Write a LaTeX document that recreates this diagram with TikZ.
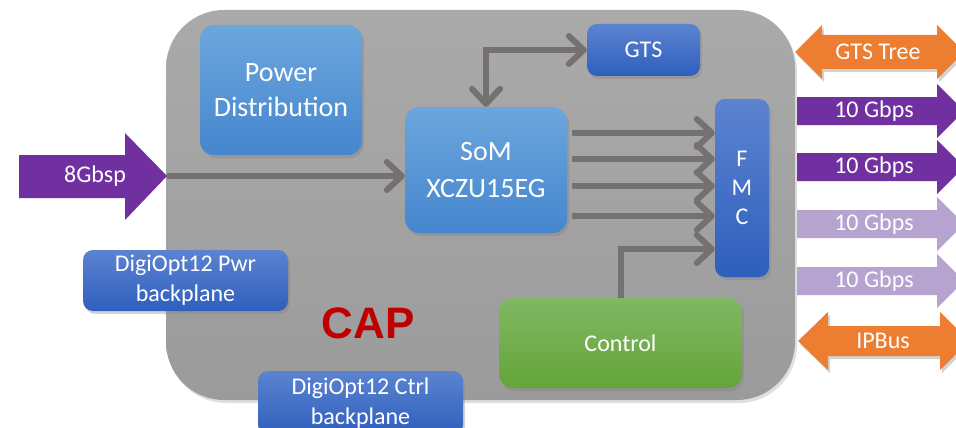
\documentclass[tikz,border=0pt]{standalone}
\usepackage{fontspec}
\setmainfont{Carlito}
\newfontfamily\capfont{Liberation Sans}
\usetikzlibrary{arrows.meta,shadows,calc}
\definecolor{bodytop}{HTML}{AAAAAA}
\definecolor{bodybot}{HTML}{9B9B9B}
\definecolor{lbtop}{HTML}{6CA6DD}
\definecolor{lbbot}{HTML}{4586CE}
\definecolor{dbtop}{HTML}{5B83D0}
\definecolor{dbbot}{HTML}{2F5FBD}
\definecolor{grtop}{HTML}{80B862}
\definecolor{grbot}{HTML}{64A53A}
\definecolor{conngray}{HTML}{767171}
\definecolor{purp}{HTML}{7030A0}
\definecolor{lpurp}{HTML}{B6A3D0}
\definecolor{orng}{HTML}{ED7D31}
\definecolor{capred}{HTML}{C00000}
\tikzset{
  shad/.style={drop shadow={shadow xshift=2pt,shadow yshift=-3pt,opacity=0.35}},
  box/.style={rounded corners=14pt, inner sep=0pt, text=white, align=center, shad},
  lbox/.style={box, top color=lbtop, bottom color=lbbot, font=\fontsize{28}{35}\selectfont},
  dbox/.style={box, rounded corners=10pt, top color=dbtop, bottom color=dbbot, font=\fontsize{24}{30}\selectfont},
  gbox/.style={box, top color=grtop, bottom color=grbot, font=\fontsize{24}{30}\selectfont},
  conn/.style={draw=conngray, line width=6pt},
  barb/.tip={Straight Barb[length=15pt,width=28pt,round]},
  lbl/.style={text=white, font=\fontsize{24}{29}\selectfont, inner sep=0pt},
}
\begin{document}
\begin{tikzpicture}[x=1pt,y=-1pt]
\useasboundingbox (0,0) rectangle (956,428);
% main body
\node[rounded corners=58pt, top color=bodytop, bottom color=bodybot, minimum width=629pt, minimum height=390pt, inner sep=0pt,
  drop shadow={shadow xshift=2pt,shadow yshift=-3pt,opacity=0.25}] (capbody) at (480.5,205) {};
\node[font=\capfont\bfseries\fontsize{44}{50}\selectfont, text=capred, inner sep=0pt] (caplbl) at (368,323) {CAP};
% boxes
\node[lbox, minimum width=162pt, minimum height=130pt] (pwr) at (281,90) {Power\\Distribution};
\node[lbox, minimum width=162pt, minimum height=126pt, font=\fontsize{28}{37}\selectfont] (som) at (486,170) {SoM\\XCZU15EG};
\node[dbox, minimum width=113pt, minimum height=52pt] (gts) at (643.5,50) {GTS};
\node[dbox, minimum width=54pt, minimum height=178pt, font=\fontsize{24}{29}\selectfont] (fmc) at (742,188) {F\\M\\C};
\node[gbox, minimum width=243pt, minimum height=90pt] (ctrl) at (620.5,343) {Control};
\node[dbox, minimum width=205pt, minimum height=61pt] (dpwr) at (185.5,280.5) {DigiOpt12 Pwr\\backplane};
\node[dbox, minimum width=205pt, minimum height=64pt] (dctrl) at (360.5,403) {DigiOpt12 Ctrl\\backplane};
% 8Gbsp input arrow
\fill[purp] (19,155) -- (125,155) -- (125,133) -- (167,176) -- (125,220) -- (125,198) -- (19,198) -- cycle;
\coordinate (intip) at (167,176);
\node[lbl] (inlbl) at (95,176) {8Gbsp};
% connectors
\draw[conn,-barb] (intip) -- (som.west |- intip);
\foreach \yy in {133,159,186,216}
  \draw[conn,-barb] ([xshift=5pt]som.east |- 0,\yy) -- (fmc.west |- 0,\yy);
\draw[conn,barb-barb] (som.north) |- (gts.west);
\draw[conn,-barb] (ctrl.north) |- (fmc.west |- 0,249);
% right-side arrows
\fill[orng, shad] (795,52) -- (822,25) -- (822,35) -- (937,35) -- (937,25) -- (964,52) -- (937,79) -- (937,69) -- (822,69) -- (822,79) -- cycle;
\node[lbl] (gtstree) at (878,52) {GTS Tree};
\foreach \yy/\cc/\nm in {111/purp/ga,167/purp/gb,224/lpurp/gc,281/lpurp/gd}{
  \fill[\cc] (797,\yy-14) -- (937,\yy-14) -- (937,\yy-27) -- (964,\yy) -- (937,\yy+27) -- (937,\yy+14) -- (797,\yy+14) -- cycle;
  \node[lbl] (\nm) at (874,\yy) {10 Gbps};
}
\fill[orng, shad] (798,341) -- (828,312) -- (828,326) -- (940,326) -- (940,312) -- (969,341) -- (940,370) -- (940,356) -- (828,356) -- (828,370) -- cycle;
\node[lbl] (ipbus) at (883,341) {IPBus};
\end{tikzpicture}
\end{document}
